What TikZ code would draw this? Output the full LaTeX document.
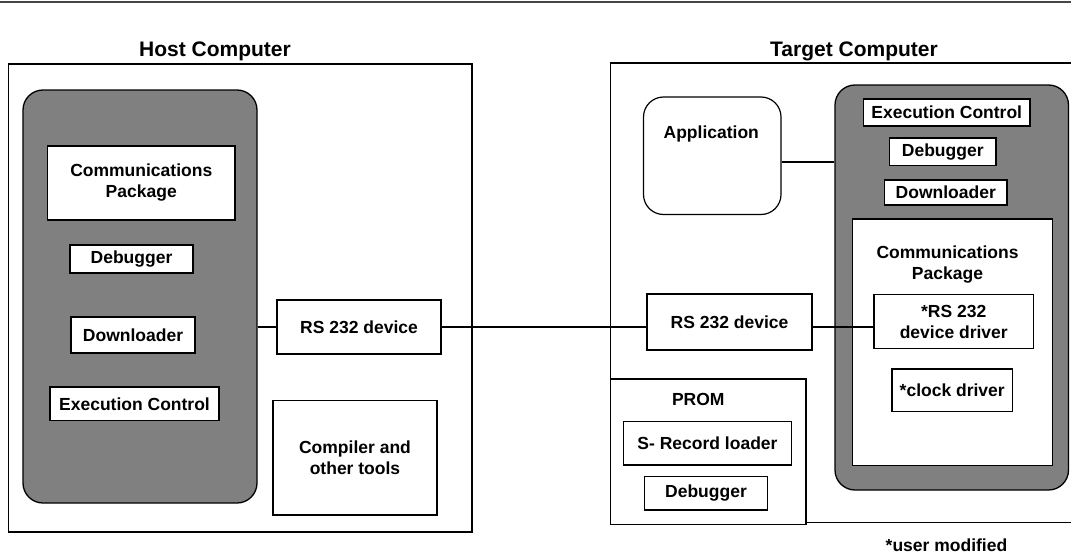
\documentclass[tikz,border=0pt]{standalone}
\usepackage{fontspec}
\setmainfont{Liberation Sans}
\definecolor{swgray}{RGB}{128,128,128}
\definecolor{rulegray}{RGB}{70,70,70}

\tikzset{
  box/.style={draw, fill=white, line width=1.2pt, inner sep=0pt, align=center,
    font=\bfseries\fontsize{17.5}{21}\selectfont},
  swarea/.style={draw, fill=swgray, line width=1.3pt, rounded corners=20pt, inner sep=0pt},
  boxtext/.style={inner sep=0pt, align=center, font=\bfseries\fontsize{17.5}{21}\selectfont},
  heading/.style={anchor=base, font=\bfseries\fontsize{21}{25}\selectfont},
  wire/.style={line width=2pt},
}

\begin{document}
\begin{tikzpicture}[x=1pt,y=1pt,yscale=-1,xscale=1]
\clip (0,0) rectangle (1071,554);

%rule at the top
\draw [color=rulegray, line width=2.5pt] (0,2) -- (1071,2);

%Host side
\draw [line width=1.2pt] (8.5,64) rectangle (472,532);
\node [heading] (hosttitle) at (215,56) {Host Computer};
\node [swarea, minimum width=234pt, minimum height=413pt] (hostsw) at (140,296.5) {};
\node [box, minimum width=187.5pt, minimum height=74pt] (hcomm) at (141.25,183) {Communications\\Package};
\node [box, minimum width=123pt, minimum height=28pt] (hdbg) at (131.5,259) {Debugger};
\node [box, minimum width=124pt, minimum height=36pt] (hdl) at (133,335) {Downloader};
\node [box, minimum width=169pt, minimum height=33.5pt] (hexec) at (134.5,403.75) {Execution Control};
\node [box, minimum width=164pt, minimum height=54pt] (hrs) at (359,327) {RS 232 device};
\node [box, minimum width=164pt, minimum height=114.5pt] (hcomp) at (355,457.75) {Compiler and\\other tools};

%Target side
\draw [line width=1.2pt] (610.5,63) rectangle (1090,522.5);
\node [heading] (tgttitle) at (854,56) {Target Computer};
\node [box, rounded corners=20pt, minimum width=137.5pt, minimum height=117.5pt,
  label={[boxtext, anchor=north, yshift=-29pt, xshift=-1pt]north:Application}] (app) at (712.25,155.75) {};
\node [swarea, minimum width=233.5pt, minimum height=405pt] (tgtsw) at (951.75,287.5) {};
\node [box, minimum width=166.5pt, minimum height=27pt] (texec) at (946.75,112.5) {Execution Control};
\node [box, minimum width=106.5pt, minimum height=27.5pt] (tdbg) at (942.75,151.75) {Debugger};
\node [box, minimum width=122.5pt, minimum height=25pt] (tdl) at (945.75,192.5) {Downloader};
\node [box, minimum width=200pt, minimum height=246.5pt,
  label={[boxtext, anchor=north, yshift=-27pt, xshift=-5pt]north:Communications\\Package}] (tcomm) at (952.5,342.25) {};
\node [box, minimum width=159.5pt, minimum height=54pt] (rsdrv) at (953.75,321.5) {*RS 232\\device driver};
\node [box, minimum width=120.5pt, minimum height=42.5pt] (clk) at (952.25,390.25) {*clock driver};
\node [box, minimum width=165pt, minimum height=56pt] (trs) at (729.5,322) {RS 232 device};
\node [box, minimum width=195.5pt, minimum height=145.5pt,
  label={[boxtext, anchor=north, yshift=-14.5pt, xshift=-10pt]north:PROM}] (prom) at (708.25,451.75) {};
\node [box, minimum width=168pt, minimum height=43.5pt] (srec) at (707.5,443.25) {S- Record loader};
\node [box, minimum width=123pt, minimum height=33.5pt] (pdbg) at (706,493.25) {Debugger};

\node [boxtext] (note) at (946.5,545) {*user modified};

%Connections
\draw [wire] (hostsw.east |- hrs.west) -- (hrs.west);
\draw [wire] (hrs.east) -- (trs.west |- hrs.east);
\draw [wire] (trs.east |- hrs.east) -- (rsdrv.west |- hrs.east);
\draw [wire] ([yshift=6pt]app.east) -- ([yshift=6pt]app.east -| tgtsw.west);

\end{tikzpicture}
\end{document}
